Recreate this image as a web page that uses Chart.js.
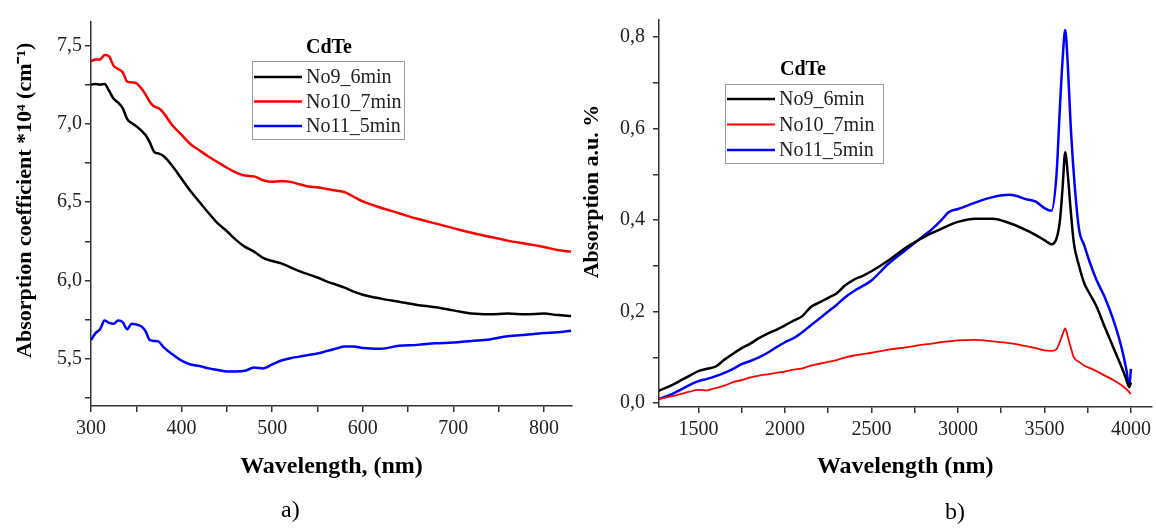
<!DOCTYPE html>
<html>
<head>
<meta charset="utf-8">
<script src="https://cdn.jsdelivr.net/npm/chart.js@4.4.0/dist/chart.umd.min.js"></script>
<style>
    body { margin: 0; background: #fff; width: 1156px; height: 529px; overflow: hidden; position: relative; }
    #chartA { position: absolute; left: 0; top: 0; }
    #chartB { position: absolute; left: 575px; top: 0; }
    .panel { position: absolute; font-family: 'Liberation Serif', 'Times New Roman', serif; font-size: 24px; color: #000; line-height: 28px; }
</style>
</head>
<body>
<canvas id="chartA" width="575" height="529"></canvas>
<canvas id="chartB" width="581" height="529"></canvas>
<div class="panel" style="left:281px; top:495px;">a)</div>
<div class="panel" style="left:945px; top:497px;">b)</div>
<script>
const SERIF = "'Liberation Serif', 'Times New Roman', serif";

// tên mẫu và màu
const seriesNames = ['No9_6min', 'No10_7min', 'No11_5min'];
const seriesColors = ['#000000', '#ff0000', '#0000ff'];

// ---- a) hệ số hấp thụ ----
const waveA = [300, 305, 310, 315, 320, 325, 330, 335, 340, 345, 350, 355, 360, 365, 370, 375, 380, 390, 400, 410,
    420, 430, 440, 450, 460, 470, 480, 490, 500, 510, 520, 530, 540, 550, 560, 570, 580, 590, 600, 620,
    640, 660, 680, 700, 720, 740, 760, 780, 800, 815, 830];
const no9A = [7.25, 7.255, 7.25, 7.255, 7.21, 7.16, 7.135, 7.10, 7.03, 7.005, 6.985, 6.96, 6.93, 6.88, 6.82, 6.81, 6.795, 6.73, 6.65, 6.57,
    6.50, 6.43, 6.365, 6.315, 6.26, 6.215, 6.185, 6.145, 6.125, 6.11, 6.085, 6.06, 6.04, 6.02, 5.995, 5.975, 5.955, 5.93, 5.91, 5.885,
    5.865, 5.845, 5.83, 5.81, 5.79, 5.785, 5.79, 5.785, 5.79, 5.78, 5.775];
const no10A = [7.40, 7.41, 7.41, 7.44, 7.43, 7.37, 7.35, 7.33, 7.27, 7.265, 7.26, 7.23, 7.19, 7.14, 7.11, 7.10, 7.07, 6.99, 6.93, 6.87,
    6.83, 6.79, 6.755, 6.72, 6.69, 6.67, 6.665, 6.64, 6.63, 6.635, 6.63, 6.615, 6.60, 6.595, 6.585, 6.575, 6.565, 6.535, 6.505, 6.465,
    6.43, 6.395, 6.365, 6.335, 6.305, 6.28, 6.255, 6.235, 6.215, 6.195, 6.185];
const no11A = [5.62, 5.665, 5.69, 5.745, 5.73, 5.725, 5.745, 5.735, 5.69, 5.725, 5.72, 5.71, 5.68, 5.62, 5.615, 5.61, 5.575, 5.53, 5.49, 5.465,
    5.455, 5.44, 5.43, 5.42, 5.42, 5.425, 5.445, 5.44, 5.465, 5.49, 5.505, 5.515, 5.525, 5.535, 5.55, 5.565, 5.58, 5.58, 5.57, 5.565,
    5.585, 5.59, 5.60, 5.605, 5.615, 5.625, 5.645, 5.655, 5.665, 5.67, 5.68];
const xLabelsA = [300, 400, 500, 600, 700, 800];
const yLabelsA = [5.5, 6.0, 6.5, 7.0, 7.5];

// ---- b) độ hấp thụ ----
const waveB = [1270, 1350, 1400, 1450, 1500, 1550, 1600, 1650, 1700, 1750, 1800, 1850, 1900, 1950, 2000, 2050, 2100, 2150, 2200, 2250,
    2300, 2350, 2400, 2450, 2500, 2600, 2700, 2800, 2850, 2900, 2950, 3000, 3100, 3200, 3300, 3400, 3450, 3500, 3540, 3570,
    3590, 3605, 3620, 3635, 3650, 3670, 3700, 3730, 3760, 3800, 3850, 3900, 3950, 3975, 3990, 4000];
const no9B = [0.027, 0.04, 0.05, 0.06, 0.07, 0.075, 0.08, 0.095, 0.108, 0.12, 0.13, 0.142, 0.152, 0.16, 0.17, 0.18, 0.19, 0.21, 0.22, 0.23,
    0.24, 0.258, 0.27, 0.278, 0.288, 0.312, 0.34, 0.362, 0.372, 0.38, 0.389, 0.396, 0.403, 0.403, 0.393, 0.377, 0.367, 0.356, 0.347, 0.36,
    0.40, 0.47, 0.548, 0.50, 0.43, 0.35, 0.30, 0.262, 0.24, 0.212, 0.165, 0.12, 0.075, 0.05, 0.035, 0.045];
const no10B = [0.009, 0.015, 0.02, 0.025, 0.029, 0.028, 0.033, 0.038, 0.046, 0.05, 0.056, 0.06, 0.063, 0.066, 0.069, 0.073, 0.076, 0.082, 0.086, 0.09,
    0.094, 0.10, 0.104, 0.107, 0.11, 0.117, 0.122, 0.128, 0.13, 0.133, 0.135, 0.137, 0.138, 0.135, 0.131, 0.124, 0.12, 0.115, 0.114, 0.118,
    0.135, 0.15, 0.163, 0.145, 0.125, 0.10, 0.09, 0.082, 0.077, 0.07, 0.06, 0.05, 0.038, 0.03, 0.024, 0.02];
const no11B = [0.009, 0.02, 0.03, 0.04, 0.048, 0.053, 0.059, 0.066, 0.075, 0.085, 0.092, 0.10, 0.11, 0.122, 0.133, 0.142, 0.155, 0.17, 0.185, 0.20,
    0.215, 0.232, 0.245, 0.256, 0.268, 0.305, 0.335, 0.365, 0.38, 0.398, 0.418, 0.424, 0.438, 0.45, 0.455, 0.445, 0.44, 0.426, 0.42, 0.50,
    0.65, 0.75, 0.815, 0.74, 0.62, 0.50, 0.38, 0.345, 0.31, 0.27, 0.23, 0.18, 0.115, 0.07, 0.035, 0.075];
const xLabelsB = [1500, 2000, 2500, 3000, 3500, 4000];
const yLabelsB = [0.0, 0.2, 0.4, 0.6, 0.8];

Chart.defaults.font.family = SERIF;

// Hàm ghép mảng x, y thành điểm
function toPoints(xs, ys) {
    return xs.map((x, i) => ({ x: x, y: ys[i] }));
}

function hasLabel(list, v) {
    return list.some(l => Math.abs(l - v) < 1e-6);
}

function fmtComma(v) {
    return v.toFixed(1).replace('.', ',');
}

// Chú thích dạng hộp vẽ bên trong vùng biểu đồ
const boxLegend = {
    id: 'boxLegend',
    afterDraw(chart, args, opts) {
        const ctx = chart.ctx;
        ctx.save();
        ctx.font = `bold 20px ${SERIF}`;
        ctx.fillStyle = '#000';
        ctx.textAlign = 'center';
        ctx.textBaseline = 'middle';
        ctx.fillText(opts.title, opts.titleX, opts.titleY);

        ctx.strokeStyle = '#9a9a9a';
        ctx.lineWidth = 1;
        ctx.strokeRect(opts.x + 0.5, opts.y + 0.5, opts.w, opts.h);

        ctx.font = `20px ${SERIF}`;
        ctx.textAlign = 'left';
        chart.data.datasets.forEach((ds, i) => {
            const y = opts.y + opts.firstRow + i * opts.rowGap;
            ctx.strokeStyle = ds.borderColor;
            ctx.lineWidth = ds.borderWidth;
            ctx.beginPath();
            ctx.moveTo(opts.x + 2, y);
            ctx.lineTo(opts.x + 2 + opts.lineLen, y);
            ctx.stroke();
            ctx.fillStyle = '#222';
            ctx.fillText(ds.label, opts.x + opts.lineLen + 6, y + 1);
        });
        ctx.restore();
    }
};

function axisStyle() {
    return {
        border: { display: true, color: '#333', width: 1.5 },
        grid: { display: true, drawOnChartArea: false, drawTicks: true, tickLength: 6, color: '#333', lineWidth: 1.5 }
    };
}

function makeDatasets(xs, ys, widths) {
    return ys.map((vals, i) => ({
        label: seriesNames[i],
        data: toPoints(xs, vals),
        borderColor: seriesColors[i],
        backgroundColor: seriesColors[i],
        borderWidth: widths[i],
        pointRadius: 0,
        cubicInterpolationMode: 'monotone',
        fill: false
    }));
}

// ---- biểu đồ a ----
new Chart(document.getElementById('chartA').getContext('2d'), {
    type: 'line',
    data: { datasets: makeDatasets(waveA, [no9A, no10A, no11A], [2.5, 2.5, 2.5]) },
    options: {
        responsive: false,
        animation: false,
        layout: { padding: { left: 0, top: 22, right: 3, bottom: 43 } },
        plugins: {
            legend: { display: false },
            tooltip: { enabled: false },
            boxLegend: { title: 'CdTe', titleX: 329, titleY: 48, x: 252, y: 61, w: 152, h: 78, firstRow: 16, rowGap: 24.5, lineLen: 48 }
        },
        scales: {
            x: {
                type: 'linear', min: 300, max: 831,
                afterFit: s => { s.height = 80; },
                ...axisStyle(),
                ticks: {
                    stepSize: 50, includeBounds: false, autoSkip: false, maxRotation: 0, padding: 5,
                    color: '#222', font: { size: 20 },
                    callback: v => hasLabel(xLabelsA, v) ? String(v) : ''
                },
                title: { display: true, text: 'Wavelength, (nm)', color: '#000', font: { size: 24, weight: 'bold' }, padding: { top: 0, bottom: 5 } }
            },
            y: {
                type: 'linear', min: 5.2, max: 7.65,
                afterFit: s => { s.width = 91; },
                ...axisStyle(),
                ticks: {
                    stepSize: 0.25, includeBounds: false, autoSkip: false, padding: 3,
                    color: '#222', font: { size: 20 },
                    callback: v => hasLabel(yLabelsA, v) ? fmtComma(v) : ''
                },
                title: { display: true, text: '     Absorption coefficient *10⁴ (cm⁻¹)', color: '#000', font: { size: 22, weight: 'bold' }, padding: { top: 12, bottom: 0 } }
            }
        }
    },
    plugins: [boxLegend]
});

// ---- biểu đồ b ----
new Chart(document.getElementById('chartB').getContext('2d'), {
    type: 'line',
    data: { datasets: makeDatasets(waveB, [no9B, no10B, no11B], [2.5, 1.8, 2.5]) },
    options: {
        responsive: false,
        animation: false,
        layout: { padding: { left: 0, top: 10, right: 2, bottom: 43 } },
        plugins: {
            legend: { display: false },
            tooltip: { enabled: false },
            boxLegend: { title: 'CdTe', titleX: 228, titleY: 70, x: 150, y: 84, w: 158, h: 79, firstRow: 15, rowGap: 25.5, lineLen: 48 }
        },
        scales: {
            x: {
                type: 'linear', min: 1272, max: 4119,
                afterFit: s => { s.height = 79; },
                ...axisStyle(),
                ticks: {
                    stepSize: 250, includeBounds: false, autoSkip: false, maxRotation: 0, padding: 5,
                    color: '#222', font: { size: 20 },
                    callback: v => hasLabel(xLabelsB, v) ? String(v) : ''
                },
                title: { display: true, text: 'Wavelength (nm)', color: '#000', font: { size: 24, weight: 'bold' }, padding: { top: 0, bottom: 5 } }
            },
            y: {
                type: 'linear', min: -0.0085, max: 0.837,
                afterFit: s => { s.width = 84; },
                ...axisStyle(),
                ticks: {
                    stepSize: 0.1, includeBounds: false, autoSkip: false, padding: 8,
                    color: '#222', font: { size: 20 },
                    callback: v => hasLabel(yLabelsB, v) ? fmtComma(v) : ''
                },
                title: { display: true, text: '        Absorption a.u. %', color: '#000', font: { size: 22, weight: 'bold' }, padding: { top: 4, bottom: 0 } }
            }
        }
    },
    plugins: [boxLegend]
});
</script>
</body>
</html>
